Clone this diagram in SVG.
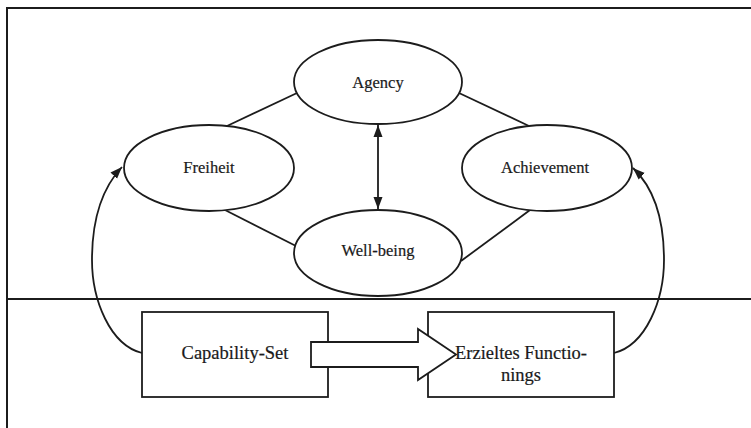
<svg xmlns="http://www.w3.org/2000/svg" width="751" height="428" viewBox="0 0 751 428">
<style>
.frame{fill:none;stroke:#1c1c1c;stroke-width:2}
.shape{fill:#fff;stroke:#1c1c1c;stroke-width:1.8}
.line{fill:none;stroke:#1c1c1c;stroke-width:1.8}
.t{font-family:"Liberation Serif","Times New Roman",serif;fill:#1a1a1a;text-anchor:middle;stroke:#1a1a1a;stroke-width:0.2}
.t1{font-size:16.5px}
.t2{font-size:18.5px}
</style>
<defs>
<marker id="ah" markerUnits="userSpaceOnUse" markerWidth="13" markerHeight="10" refX="12" refY="4.5" orient="auto-start-reverse" viewBox="0 0 13 9">
<path d="M0,0 L12,4.5 L0,9 z" fill="#1c1c1c"/>
</marker>
</defs>
<rect width="751" height="428" fill="#fff"/>
<g id="frame">
<rect class="frame" x="7" y="8" width="780" height="460"/>
<line class="frame" x1="7" y1="299" x2="751" y2="299"/>
</g>
<g id="connectors">
<line class="line" x1="227" y1="126" x2="297" y2="93"/>
<line class="line" x1="529" y1="126" x2="459" y2="93"/>
<line class="line" x1="225" y1="210" x2="296" y2="246"/>
<line class="line" x1="530" y1="210" x2="461" y2="261"/>
<line class="line" x1="378" y1="125" x2="378" y2="209" marker-start="url(#ah)" marker-end="url(#ah)"/>
<path class="line" d="M142,353 C110,345 92,300 92,260 C92,215 104,186 122,167" marker-end="url(#ah)"/>
<path class="line" d="M614,353 C646,345 664,300 664,260 C664,215 652,186 633,168" marker-end="url(#ah)"/>
</g>
<g id="agency">
<ellipse class="shape" cx="378" cy="82" rx="84" ry="42"/>
<text class="t t1" x="378" y="88">Agency</text>
</g>
<g id="freiheit">
<ellipse class="shape" cx="209" cy="168" rx="85" ry="43"/>
<text class="t t1" x="209" y="172.5">Freiheit</text>
</g>
<g id="achievement">
<ellipse class="shape" cx="547" cy="168" rx="85" ry="43"/>
<text class="t t1" x="545" y="172.5">Achievement</text>
</g>
<g id="wellbeing">
<ellipse class="shape" cx="378" cy="253" rx="84" ry="43"/>
<text class="t t1" x="378" y="256">Well-being</text>
</g>
<g id="capability-set">
<rect class="shape" x="142" y="312" width="186" height="85"/>
</g>
<g id="erzieltes-functionings">
<rect class="shape" x="428" y="312" width="186" height="85"/>
</g>
<g id="block-arrow">
<polygon class="shape" points="311,342 418,342 418,329 456,354.5 418,380 418,367 311,367"/>
</g>
<g id="labels">
<text class="t t2" x="235" y="359">Capability-Set</text>
<text class="t t2" x="521" y="359">Erzieltes Functio-</text>
<text class="t t2" x="521" y="381">nings</text>
</g>
</svg>
